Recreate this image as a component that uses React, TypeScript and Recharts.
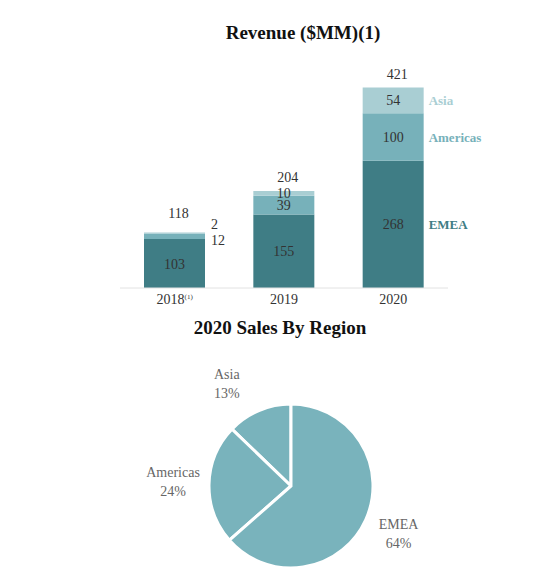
import { BarChart, Bar, XAxis, YAxis, LabelList, PieChart, Pie, Cell } from "recharts";

const years = ["2018", "2019", "2020"];
const emea = [103, 155, 268];
const americas = [12, 39, 100];
const asia = [2, 10, 54];
const totals = [118, 204, 421];

const regions = ["Asia", "Americas", "EMEA"];
const sales2020 = [54, 100, 268];

const C_EMEA = "#3f7d85";
const C_AMER = "#77b1ba";
const C_ASIA = "#a9ced3";
const C_PIE = "#79b3bc";
const FONT = "'Liberation Serif', 'Times New Roman', serif";

const barData = years.map((y, i) => ({
  year: y,
  emea: emea[i],
  americas: americas[i],
  asia: asia[i],
  total: totals[i],
}));

const pieTotal = sales2020.reduce((a, b) => a + b, 0);
const pieData = regions.map((r, i) => ({ name: r, value: sales2020[i] }));

const sideLabel = (name: string, color: string) => (props: any) => {
  const { x, y, width, height, index } = props;
  if (index !== 2) return null;
  return (
    <text x={x + width + 5} y={y + height / 2} dy={5} fill={color} fontSize={13} fontWeight="bold" fontFamily={FONT}>
      {name}
    </text>
  );
};

const innerLabel = (smallAbove: boolean) => (props: any) => {
  const { x, y, width, height, value, index } = props;
  if (index === 0 && height < 12) {
    // tiny 2018 segments get their numbers outside, to the right
    return (
      <text x={x + width + 6} y={smallAbove ? y - 3 : y + height + 6} fill="#333" fontSize={14} fontFamily={FONT}>
        {value}
      </text>
    );
  }
  return (
    <text x={x + width / 2} y={y + height / 2} dy={5} textAnchor="middle" fill="#333" fontSize={14} fontFamily={FONT}>
      {value}
    </text>
  );
};

const totalLabel = (props: any) => {
  const { x, y, width, value, index } = props;
  return (
    <text x={x + width / 2 + 4} y={y - (index === 0 ? 14 : 9)} textAnchor="middle" fill="#333" fontSize={14} fontFamily={FONT}>
      {value}
    </text>
  );
};

const YearTick = (props: any) => {
  const { x, y, payload } = props;
  return (
    <text x={x} y={y + 8} textAnchor="middle" fill="#333" fontSize={14} fontFamily={FONT}>
      {payload.value}
      {payload.value === "2018" && <tspan fontSize={7} dy={-5}>(1)</tspan>}
    </text>
  );
};

const RADIAN = Math.PI / 180;
const pieLabel = (props: any) => {
  const { cx, cy, midAngle, index, value } = props;
  const r = 118;
  const nudge = [[-18, 8], [0, 0], [0, 0]][index];
  const lx = cx + r * Math.cos(-midAngle * RADIAN) + nudge[0];
  const ly = cy + r * Math.sin(-midAngle * RADIAN) + nudge[1];
  return (
    <text x={lx} y={ly - 6} textAnchor="middle" fill="#666" fontSize={14} fontFamily={FONT}>
      <tspan x={lx}>{regions[index]}</tspan>
      <tspan x={lx} dy={19}>{Math.round((value / pieTotal) * 100)}%</tspan>
    </text>
  );
};

export default function App() {
  return (
    <div style={{ position: "absolute", left: 0, top: 0, width: 550, height: 576, background: "#fff", fontFamily: FONT }}>
      <div style={{ position: "absolute", left: 0, width: 606, top: 22, textAlign: "center", fontSize: 19, fontWeight: "bold", color: "#111" }}>
        Revenue ($MM)(1)
      </div>
      <div style={{ position: "absolute", left: 0, width: 560, top: 317, textAlign: "center", fontSize: 19, fontWeight: "bold", color: "#111" }}>
        2020 Sales By Region
      </div>
      <div style={{ position: "absolute", left: 0, top: 0 }}>
        <BarChart width={550} height={310} data={barData} margin={{ top: 79, right: 102, left: 120, bottom: 0 }}>
          <XAxis dataKey="year" height={22} tickLine={false} axisLine={{ stroke: "#e2e2e2" }} tick={<YearTick />} interval={0} />
          <YAxis hide domain={[0, 440]} />
          <Bar dataKey="emea" stackId="r" fill={C_EMEA} barSize={61} isAnimationActive={false}>
            <LabelList dataKey="emea" content={innerLabel(false)} />
            <LabelList dataKey="emea" content={sideLabel("EMEA", C_EMEA)} />
          </Bar>
          <Bar dataKey="americas" stackId="r" fill={C_AMER} barSize={61} isAnimationActive={false}>
            <LabelList dataKey="americas" content={innerLabel(false)} />
            <LabelList dataKey="americas" content={sideLabel("Americas", C_AMER)} />
          </Bar>
          <Bar dataKey="asia" stackId="r" fill={C_ASIA} barSize={61} isAnimationActive={false}>
            <LabelList dataKey="asia" content={innerLabel(true)} />
            <LabelList dataKey="asia" content={sideLabel("Asia", C_ASIA)} />
            <LabelList dataKey="total" content={totalLabel} />
          </Bar>
        </BarChart>
      </div>
      <div style={{ position: "absolute", left: 0, top: 330 }}>
        <PieChart width={550} height={246}>
          <Pie
            data={pieData}
            dataKey="value"
            cx={286}
            cy={151}
            outerRadius={82}
            startAngle={90}
            endAngle={450}
            fill={C_PIE}
            stroke="#fff"
            strokeWidth={3}
            label={pieLabel}
            labelLine={false}
            isAnimationActive={false}
          >
            {pieData.map((d) => (
              <Cell key={d.name} fill={C_PIE} />
            ))}
          </Pie>
        </PieChart>
      </div>
    </div>
  );
}
